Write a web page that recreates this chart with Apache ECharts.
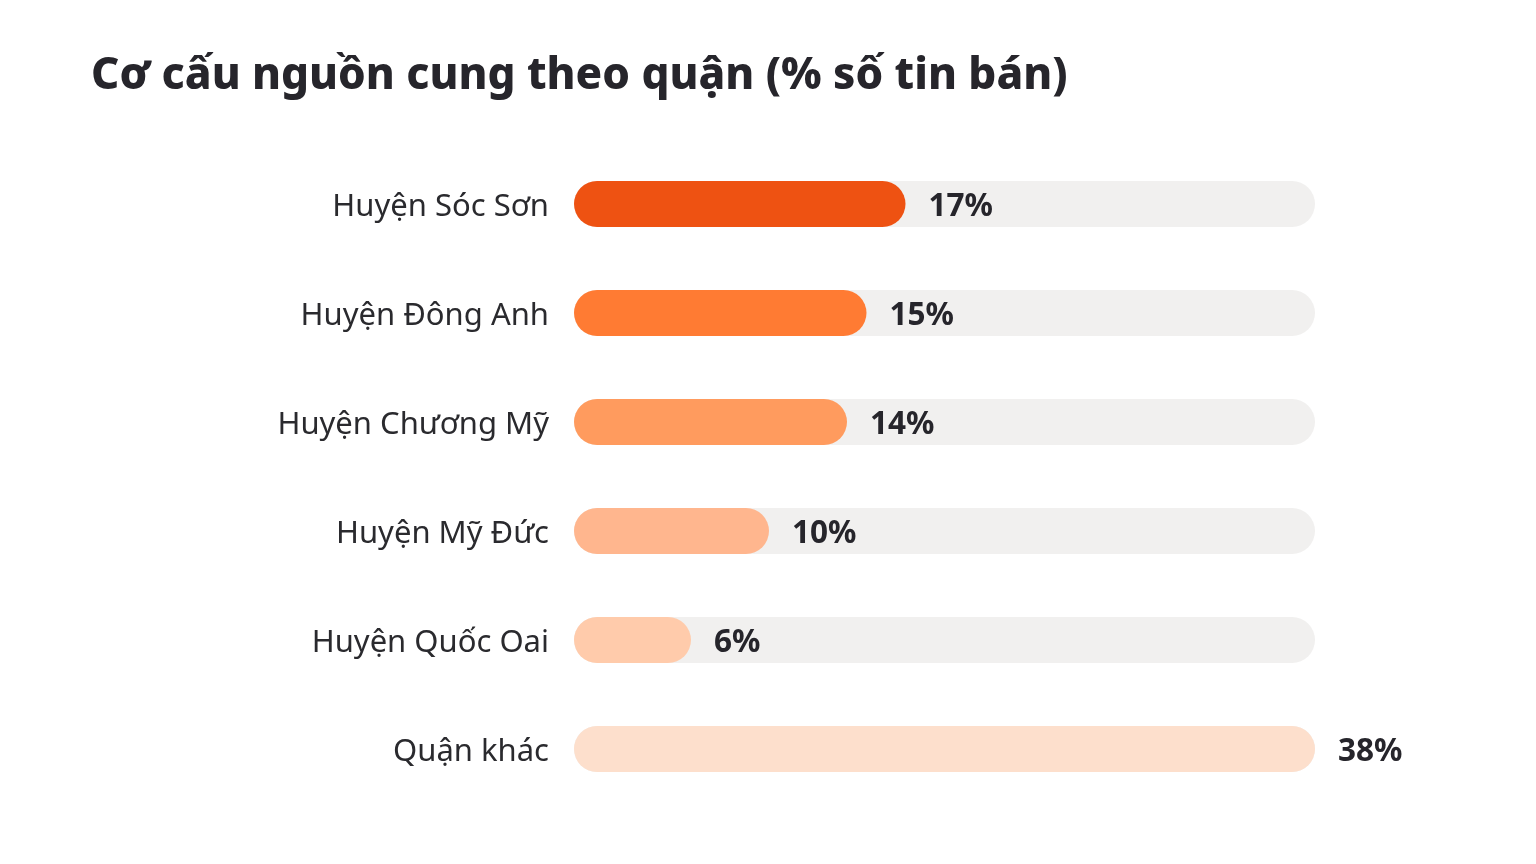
<!DOCTYPE html>
<html><head><meta charset="utf-8">
<script src="https://cdn.jsdelivr.net/npm/echarts@6/dist/echarts.min.js"></script>
<style>html,body{margin:0;padding:0;background:#fff}#c{width:1536px;height:864px}</style>
</head><body><div id="c"></div>
<script>
const categories = ['Huyện Sóc Sơn','Huyện Đông Anh','Huyện Chương Mỹ','Huyện Mỹ Đức','Huyện Quốc Oai','Quận khác'];
const values = [17,15,14,10,6,38];
const barColors = ['#EE5212','#FF7B33','#FF9B5E','#FFB68E','#FFCBAB','#FDDFCC'];

const chart = echarts.init(document.getElementById('c'));
chart.setOption({
  backgroundColor:'#fff',
  animation:false,
  title:{text:'Cơ cấu nguồn cung theo quận (% số tin bán)',left:86,top:44,
    textStyle:{fontFamily:'Noto Sans',fontWeight:800,fontSize:44,lineHeight:54,color:'#26252b'}},
  grid:{left:574,right:221,top:149.5,bottom:60.5,containLabel:false},
  xAxis:{type:'value',min:0,max:38,show:false},
  yAxis:{type:'category',data:categories,inverse:true,
    axisLine:{show:false},axisTick:{show:false},splitLine:{show:false},
    axisLabel:{margin:25,formatter:v=>'{a|'+v+'}',
      rich:{a:{fontFamily:'Noto Sans',fontSize:31,color:'#2a2a2e',padding:[6,0,0,0]}}}},
  series:[{type:'bar',barWidth:46,
    data:values.map((v,i)=>({value:v,itemStyle:{color:barColors[i]}})),
    itemStyle:{borderRadius:23},
    showBackground:true,
    backgroundStyle:{color:'#F1F0EF',borderRadius:23},
    label:{show:true,position:'right',distance:23,offset:[0,3],formatter:'{c}%',
      fontFamily:'Noto Sans',fontWeight:'bold',fontSize:31.5,color:'#26252b'}
  }]
});
</script></body></html>
